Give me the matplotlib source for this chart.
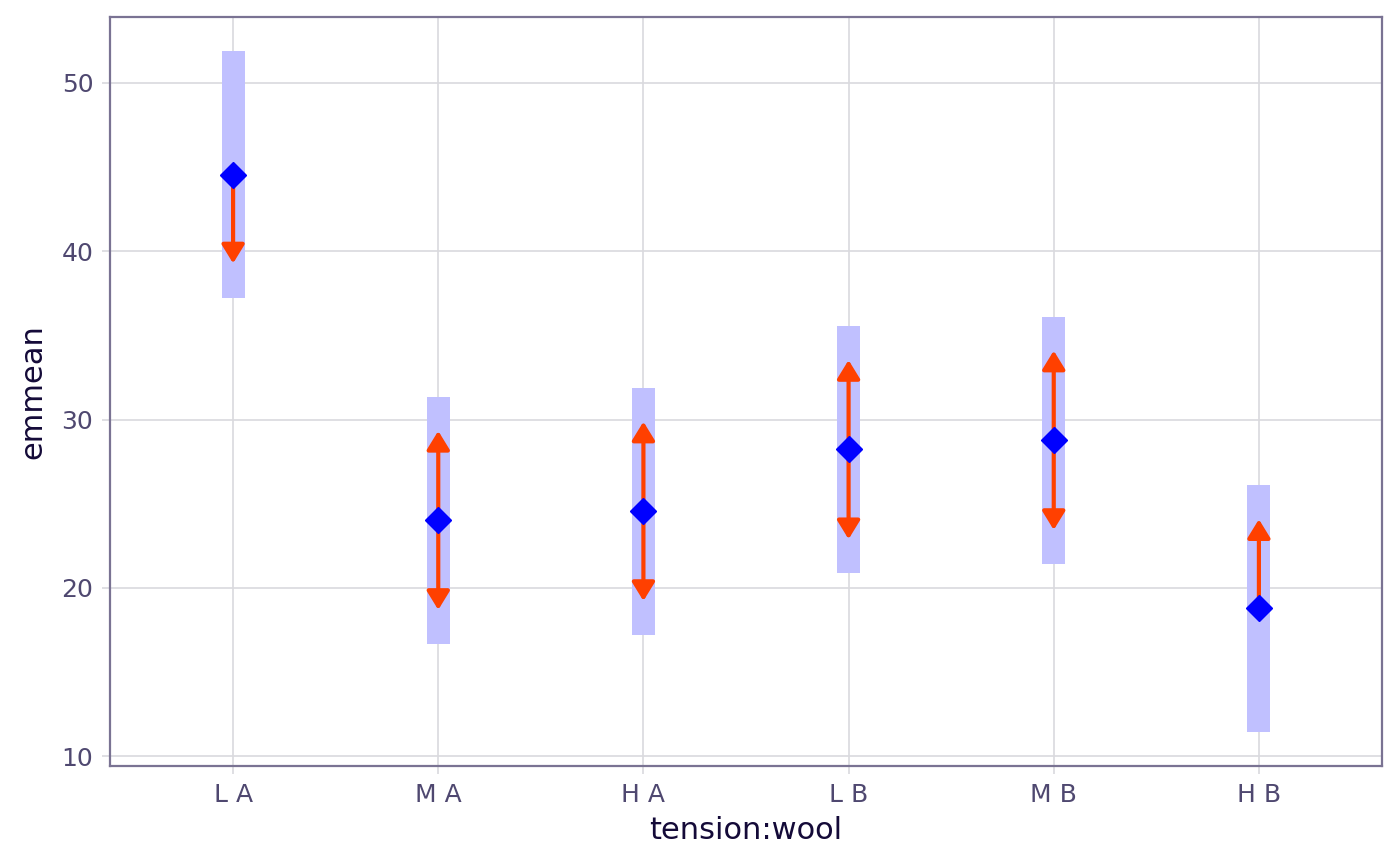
import numpy as np
import matplotlib
matplotlib.use("Agg")
import matplotlib.pyplot as plt

# emmeans for warpbreaks, tension:wool
labels = ["L A", "M A", "H A", "L B", "M B", "H B"]
emmean = [44.56, 24.00, 24.56, 28.22, 28.78, 18.78]
lower_cl = [37.22, 16.66, 17.22, 20.88, 21.44, 11.44]
upper_cl = [51.89, 31.34, 31.89, 35.56, 36.11, 26.11]
# comparison arrow ends (None = no arrow)
arrow_lo = [39.28, 18.69, 19.22, 22.89, 23.44, None]
arrow_hi = [None, 29.32, 29.87, 33.53, 34.09, 24.07]

tick_col = "#4f4870"
title_col = "#140a38"
frame_col = "#7a7393"
grid_col = "#d9d9de"

fig = plt.figure(figsize=(14, 8.66), dpi=100)
ax = fig.add_axes([110 / 1400, 100 / 866, 1272 / 1400, 749 / 866])

x = np.arange(len(labels))
ax.bar(x, np.array(upper_cl) - np.array(lower_cl), bottom=lower_cl,
       width=0.112, color="#c0c0ff", zorder=2)

for xi, m, lo, hi in zip(x, emmean, arrow_lo, arrow_hi):
    for end in (lo, hi):
        if end is None:
            continue
        ax.annotate("", xy=(xi, end), xytext=(xi, m),
                    arrowprops=dict(arrowstyle="-|>,head_length=0.75,head_width=0.46",
                                    color="#ff4000", lw=3,
                                    shrinkA=0, shrinkB=0, mutation_scale=15),
                    zorder=3)

ax.plot(x, emmean, linestyle="none", marker="D", markersize=13,
        color="#0000ff", zorder=4)

ax.set_xlim(-0.6, 5.6)
ax.set_ylim(9.41, 53.92)
ax.set_xticks(x)
ax.set_xticklabels(labels)
ax.set_yticks([10, 20, 30, 40, 50])

ax.grid(True, color=grid_col, lw=1.2, zorder=0)
ax.set_axisbelow(True)
for s in ax.spines.values():
    s.set_color(frame_col)
    s.set_linewidth(1.6)

ax.tick_params(axis="both", colors=grid_col, length=6, width=1.2,
               labelsize=18, labelcolor=tick_col, pad=6)

ax.set_xlabel("tension:wool", fontsize=22, color=title_col, labelpad=7)
ax.set_ylabel("emmean", fontsize=22, color=title_col, labelpad=10)

fig.savefig("out.png", dpi=100)
